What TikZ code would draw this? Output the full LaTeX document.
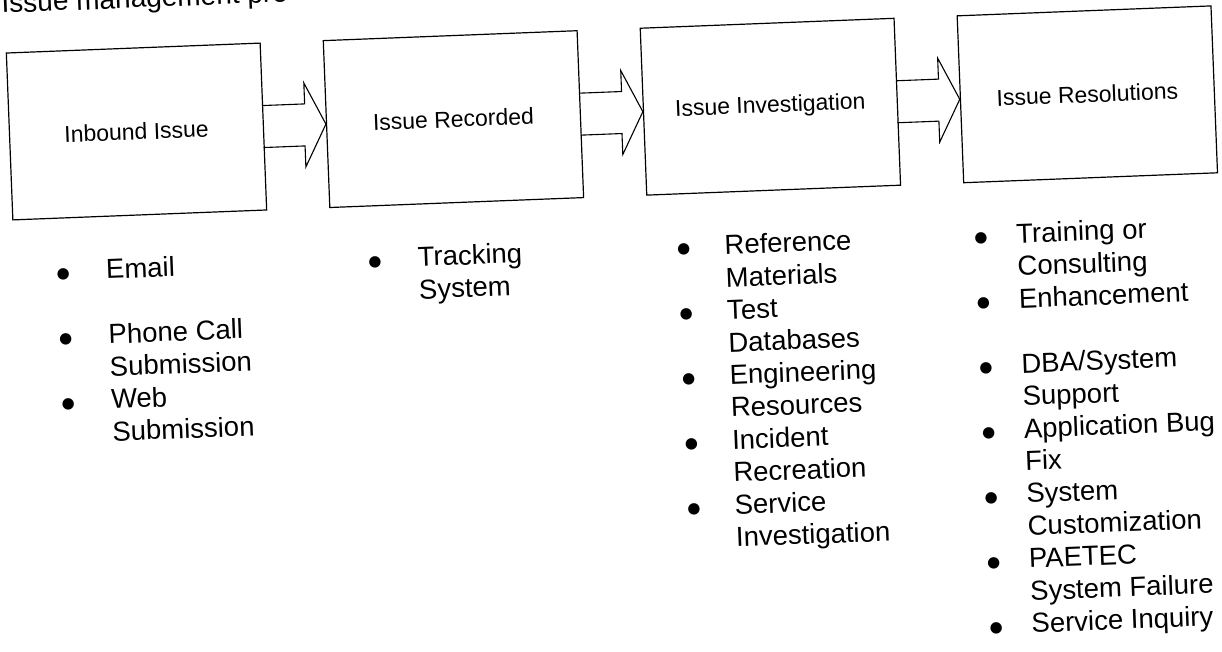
\documentclass[tikz,border=0pt]{standalone}
\usepackage{fontspec}
\setmainfont{Liberation Sans}
\newfontfamily\dotfont{DejaVu Sans}

% round bullet mark used in the lists
\newcommand{\dotmark}{\raisebox{2.5pt}{\dotfont\fontsize{15}{15}\selectfont\symbol{"25CF}}}
% one list entry: bullet, then text with a hanging indent
\newcommand{\bitem}[2]{\par\hangindent=#1\hangafter=1\noindent\makebox[#1][l]{\dotmark}#2\par}
% a column of list entries
\newcommand{\bcol}[2]{\parbox[t]{#1}{\parindent=0pt\parskip=0pt\fontsize{27.5}{32.5}\selectfont #2}}

\begin{document}
\begin{tikzpicture}[x=1pt,y=1pt,
  stagebox/.style={draw=black, line width=1.2pt, minimum width=254pt, minimum height=167pt,
    inner sep=0pt, font=\fontsize{23}{27}\selectfont},
  flowarrow/.style={draw=black, line width=1.1pt, line join=miter},
  listcol/.style={anchor=base west, inner sep=0pt},
  heading/.style={anchor=base west, inner sep=0pt, font=\fontsize{28}{32}\selectfont}]
\useasboundingbox (0,0) rectangle (1222,-651);
\fill[white] (0,0) rectangle (1222,-651);
\clip (0,0) rectangle (1222,-651);

\begin{scope}[shift={(136.5,-131.5)}, rotate=2.24, transform shape]
  \node[heading] (title) at (-130,123.7) {Issue management pro};

  % process stages
  \node[stagebox] (b1) at (0,0)     {Inbound Issue};
  \node[stagebox] (b2) at (317.2,0) {Issue Recorded};
  \node[stagebox] (b3) at (634.4,0) {Issue Investigation};
  \node[stagebox] (b4) at (951.6,0) {Issue Resolutions};

  % block arrows between stages
  \draw[flowarrow] (b1.east) ++(0,21) -- ++(41.5,0) -- ++(0,21) -- (b2.west)
        -- ++(-21.7,-42) -- ++(0,21) -- ++(-41.5,0);
  \draw[flowarrow] (b2.east) ++(0,21) -- ++(41.5,0) -- ++(0,21) -- (b3.west)
        -- ++(-21.7,-42) -- ++(0,21) -- ++(-41.5,0);
  \draw[flowarrow] (b3.east) ++(0,21) -- ++(41.5,0) -- ++(0,21) -- (b4.west)
        -- ++(-21.7,-42) -- ++(0,21) -- ++(-41.5,0);

  % lists under each stage
  \node[listcol] (l1) at (-85.5,-146) {\bcol{300pt}{%
    \bitem{49.5pt}{Email}\vspace{32.5pt}%
    \bitem{49.5pt}{Phone Call\newline Submission}%
    \bitem{49.5pt}{Web\newline Submission}}};
  \node[listcol] (l2) at (226.5,-146) {\bcol{300pt}{%
    \bitem{49.5pt}{Tracking\newline System}}};
  \node[listcol] (l3) at (535.5,-146) {\bcol{300pt}{%
    \bitem{47.5pt}{Reference\newline Materials}%
    \bitem{47.5pt}{Test\newline Databases}%
    \bitem{47.5pt}{Engineering\newline Resources}%
    \bitem{47.5pt}{Incident\newline Recreation}%
    \bitem{47.5pt}{Service\newline Investigation}}};
  \node[listcol] (l4) at (833,-146) {\bcol{300pt}{%
    \bitem{42pt}{Training or\newline Consulting}%
    \bitem{42pt}{Enhancement}\vspace{32.5pt}%
    \bitem{42pt}{DBA/System\newline Support}%
    \bitem{42pt}{Application Bug\newline Fix}%
    \bitem{42pt}{System\newline Customization}%
    \bitem{42pt}{PAETEC\newline System Failure}%
    \bitem{42pt}{Service Inquiry}}};
\end{scope}
\end{tikzpicture}
\end{document}
